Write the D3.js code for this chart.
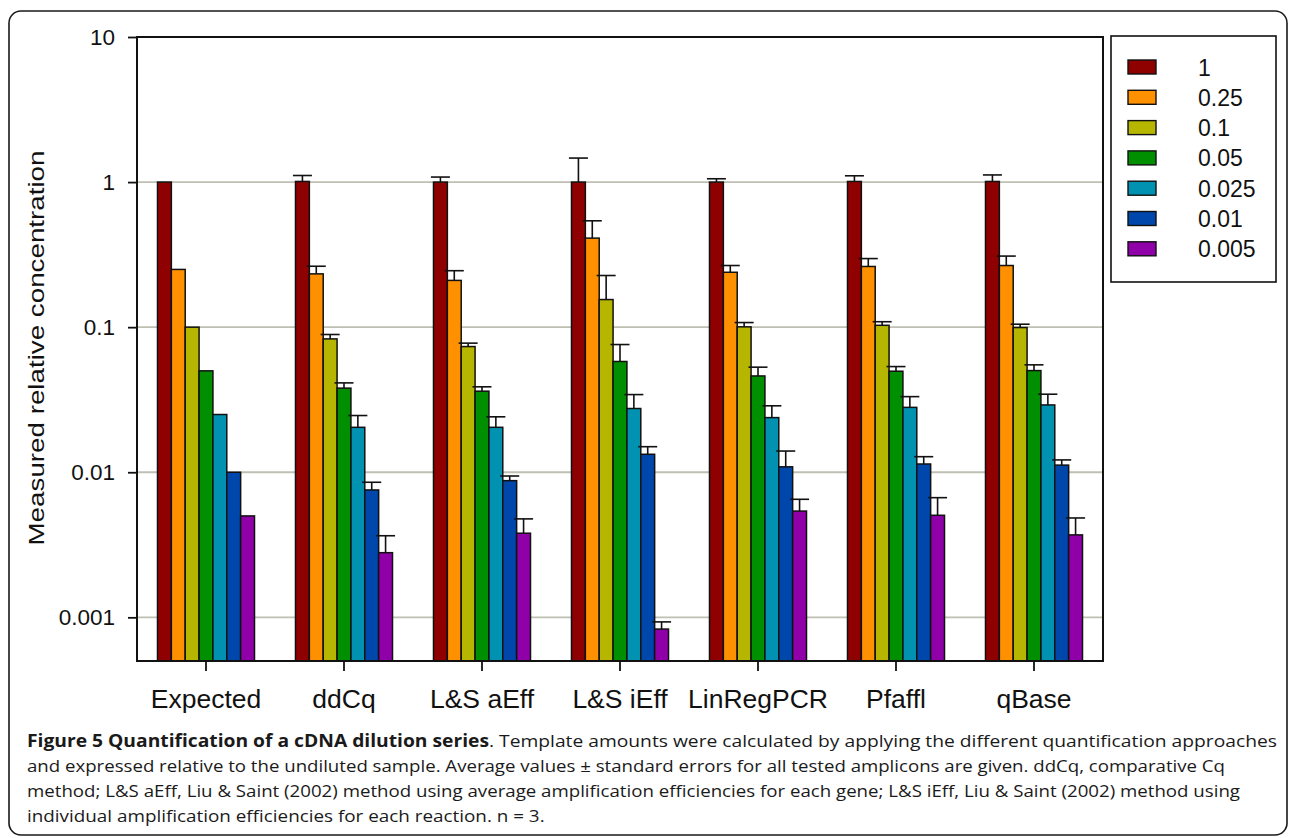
<!DOCTYPE html>
<html>
<head>
<meta charset="utf-8">
<script src="https://cdn.jsdelivr.net/npm/d3@7/dist/d3.min.js"></script>
<style>
  html, body { margin: 0; padding: 0; background: #fff; }
  svg { display: block; }
</style>
</head>
<body>
<svg id="chart" width="1290" height="838"></svg>
<script>
// Quantification methods (x groups) and dilution levels (series)
const categories = ["Expected", "ddCq", "L&S aEff", "L&S iEff", "LinRegPCR", "Pfaffl", "qBase"];
const dilutions = ["1", "0.25", "0.1", "0.05", "0.025", "0.01", "0.005"];

// Mean measured relative concentration per method, one entry per dilution
const expected  = [1, 0.25, 0.1, 0.05, 0.025, 0.01, 0.005];
const ddCq      = [1.01, 0.233, 0.083, 0.038, 0.0204, 0.00755, 0.00279];
const lsAEff    = [1.0, 0.21, 0.0735, 0.0362, 0.0204, 0.00875, 0.0038];
const lsIEff    = [1.0, 0.411, 0.155, 0.058, 0.0275, 0.0133, 0.00083];
const linRegPCR = [1.0, 0.239, 0.1005, 0.0461, 0.0238, 0.0109, 0.0054];
const pfaffl    = [1.01, 0.262, 0.103, 0.0497, 0.028, 0.0114, 0.00505];
const qBase     = [1.01, 0.266, 0.0994, 0.0502, 0.0291, 0.0112, 0.0037];

// Standard errors (upper whisker only); the expected amounts have none
const ddCqSE      = [0.10, 0.030, 0.006, 0.0033, 0.0042, 0.00098, 0.00086];
const lsAEffSE    = [0.083, 0.035, 0.0041, 0.0026, 0.0037, 0.00067, 0.00097];
const lsIEffSE    = [0.464, 0.130, 0.072, 0.0179, 0.0068, 0.0017, 0.0001];
const linRegPCRSE = [0.054, 0.027, 0.0071, 0.0069, 0.0049, 0.0031, 0.00111];
const pfafflSE    = [0.095, 0.035, 0.006, 0.0038, 0.0052, 0.0014, 0.00163];
const qBaseSE     = [0.11, 0.043, 0.0054, 0.0048, 0.0054, 0.00096, 0.00114];

// Y axis ticks
const yTickValues = [0.001, 0.01, 0.1, 1, 10];
const yTickLabels = ["0.001", "0.01", "0.1", "1", "10"];

// Series colours
const seriesColors = ["#8f0000", "#ff9100", "#b6b600", "#008f00", "#0092b0", "#0047ab", "#9000a8"];

const meansByMethod = [expected, ddCq, lsAEff, lsIEff, linRegPCR, pfaffl, qBase];
const seByMethod = [null, ddCqSE, lsAEffSE, lsIEffSE, linRegPCRSE, pfafflSE, qBaseSE];

const svg = d3.select("#chart");
const plot = { left: 137, right: 1103, top: 37, bottom: 661 };
const axisFont = "'Liberation Sans', Arial, Helvetica, sans-serif";

// Outer figure border
svg.append("rect")
  .attr("x", 9).attr("y", 11).attr("width", 1278).attr("height", 824)
  .attr("rx", 12).attr("ry", 12)
  .attr("fill", "none").attr("stroke", "#1a1a1a").attr("stroke-width", 1.6);

// Scales
const y = d3.scaleLog().domain([0.0005, 10]).range([plot.bottom, plot.top]);
const x0 = d3.scaleBand().domain(categories)
  .range([plot.left, plot.right])
  .paddingInner(0.297).paddingOuter(0.1485);
const x1 = d3.scaleBand().domain(dilutions).range([0, x0.bandwidth()]);

// Horizontal grid lines
svg.append("g").selectAll("line")
  .data(yTickValues.filter(v => v < 10))
  .join("line")
  .attr("x1", plot.left).attr("x2", plot.right)
  .attr("y1", d => y(d)).attr("y2", d => y(d))
  .attr("stroke", "#bfbfb3").attr("stroke-width", 1.8);

// Bars
const groups = svg.append("g").selectAll("g")
  .data(categories.map((c, gi) => ({ cat: c, gi })))
  .join("g")
  .attr("transform", d => `translate(${x0(d.cat)},0)`);

groups.selectAll("rect")
  .data(d => dilutions.map((dl, i) => ({ dl, i, v: meansByMethod[d.gi][i] })))
  .join("rect")
  .attr("x", d => x1(d.dl))
  .attr("width", x1.bandwidth())
  .attr("y", d => y(d.v))
  .attr("height", d => plot.bottom - y(d.v))
  .attr("fill", d => seriesColors[d.i])
  .attr("stroke", "#111").attr("stroke-width", 1.5);

// Error bars (upper whiskers)
const capHalf = 9.5;
groups.each(function (d) {
  const se = seByMethod[d.gi];
  if (!se) return;
  const g = d3.select(this).append("g").attr("stroke", "#111").attr("stroke-width", 1.6);
  dilutions.forEach((dl, i) => {
    const v = meansByMethod[d.gi][i];
    const cx = x1(dl) + x1.bandwidth() / 2;
    g.append("line").attr("x1", cx).attr("x2", cx)
      .attr("y1", y(v)).attr("y2", y(v + se[i]));
    g.append("line").attr("x1", cx - capHalf).attr("x2", cx + capHalf)
      .attr("y1", y(v + se[i])).attr("y2", y(v + se[i]));
  });
});

// Plot frame
svg.append("rect")
  .attr("x", plot.left).attr("y", plot.top)
  .attr("width", plot.right - plot.left).attr("height", plot.bottom - plot.top)
  .attr("fill", "none").attr("stroke", "#111").attr("stroke-width", 2);

// Y axis
const yAxis = svg.append("g")
  .attr("transform", `translate(${plot.left},0)`)
  .call(d3.axisLeft(y).tickValues(yTickValues)
    .tickFormat((d, i) => yTickLabels[i])
    .tickSize(9).tickPadding(13));
yAxis.select(".domain").remove();
yAxis.selectAll(".tick line").attr("stroke", "#111").attr("stroke-width", 1.8);
yAxis.selectAll(".tick text")
  .attr("font-family", axisFont).attr("font-size", 22.5).attr("fill", "#111");

// X axis
const xAxis = svg.append("g")
  .attr("transform", `translate(0,${plot.bottom})`)
  .call(d3.axisBottom(x0).tickSize(10).tickPadding(18));
xAxis.select(".domain").remove();
xAxis.selectAll(".tick line").attr("stroke", "#111").attr("stroke-width", 1.8);
xAxis.selectAll(".tick text")
  .attr("font-family", axisFont).attr("font-size", 26.5).attr("fill", "#111");

// Y axis title
svg.append("text")
  .attr("transform", "translate(44,348) rotate(-90)")
  .attr("text-anchor", "middle")
  .attr("font-family", axisFont).attr("font-size", 22)
  .attr("textLength", 395).attr("lengthAdjust", "spacingAndGlyphs")
  .attr("fill", "#111")
  .text("Measured relative concentration");

// Legend
const legend = svg.append("g");
legend.append("rect")
  .attr("x", 1111).attr("y", 36).attr("width", 165).attr("height", 246)
  .attr("fill", "#fff").attr("stroke", "#111").attr("stroke-width", 1.6);
const rowY = i => 67 + i * 30.3;
legend.selectAll("rect.sw")
  .data(dilutions)
  .join("rect").attr("class", "sw")
  .attr("x", 1128).attr("y", (d, i) => rowY(i) - 7)
  .attr("width", 28).attr("height", 14)
  .attr("fill", (d, i) => seriesColors[i])
  .attr("stroke", "#111").attr("stroke-width", 1.4);
legend.selectAll("text")
  .data(dilutions)
  .join("text")
  .attr("x", 1198).attr("y", (d, i) => rowY(i) + 8.5)
  .attr("font-family", axisFont).attr("font-size", 23).attr("fill", "#111")
  .text(d => d);

// Caption
const capFont = "'Open Sans', 'Noto Sans', sans-serif";
const capX = 27;
const capLines = [
  { y: 747, width: 1250, parts: [
    { t: "Figure 5 Quantification of a cDNA dilution series", bold: true },
    { t: ". Template amounts were calculated by applying the different quantification approaches", bold: false }] },
  { y: 772, width: 1198, parts: [
    { t: "and expressed relative to the undiluted sample. Average values \u00b1 standard errors for all tested amplicons are given. ddCq, comparative Cq", bold: false }] },
  { y: 797, width: 1213, parts: [
    { t: "method; L&S aEff, Liu & Saint (2002) method using average amplification efficiencies for each gene; L&S iEff, Liu & Saint (2002) method using", bold: false }] },
  { y: 822, width: null, parts: [
    { t: "individual amplification efficiencies for each reaction. n = 3.", bold: false }] }
];
const capNodes = capLines.map(line => {
  const t = svg.append("text")
    .attr("x", capX).attr("y", line.y)
    .attr("font-family", capFont).attr("font-size", 17).attr("fill", "#1a1a1a");
  line.parts.forEach(p => {
    t.append("tspan").attr("font-weight", p.bold ? 700 : 400).text(p.t);
  });
  return t;
});
// Fit the justified lines to their measured widths and scale the last line alike
let ratioSum = 0, ratioN = 0;
capLines.forEach((line, i) => {
  if (line.width) {
    const natural = capNodes[i].node().getComputedTextLength();
    ratioSum += line.width / natural; ratioN++;
    capNodes[i].attr("textLength", line.width).attr("lengthAdjust", "spacingAndGlyphs");
  }
});
const k = ratioSum / ratioN;
capLines.forEach((line, i) => {
  if (!line.width) {
    const natural = capNodes[i].node().getComputedTextLength();
    capNodes[i].attr("textLength", natural * k).attr("lengthAdjust", "spacingAndGlyphs");
  }
});
</script>
</body>
</html>
